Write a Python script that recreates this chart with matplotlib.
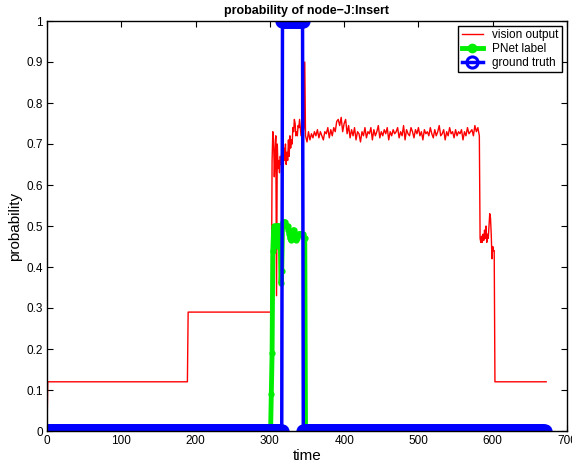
import numpy as np
import matplotlib
matplotlib.use('Agg')
import matplotlib.pyplot as plt

plt.rcParams['font.family'] = ['Liberation Sans', 'DejaVu Sans']

#------------ vision output (red) ------------
red_t_start = [0, 1, 189, 190, 302]
red_p_start = [0.0, 0.12, 0.12, 0.29, 0.29]

# rise / noisy part, one sample per time step
red_t_rise = list(range(303, 348))
red_p_rise = [0.66, 0.73, 0.71, 0.62, 0.68, 0.72, 0.33, 0.70, 0.64, 0.66,
              0.63, 0.67, 0.65, 0.68, 0.66, 0.64, 0.69, 0.66, 0.70, 0.65,
              0.68, 0.66, 0.71, 0.67, 0.72, 0.69, 0.71, 0.70, 0.74, 0.73,
              0.76, 0.75, 0.72, 0.73, 0.72, 0.745, 0.74, 0.76, 0.74, 0.72,
              0.73, 0.74, 0.73, 0.74, 0.90]

# plateau, every 2nd step from 348 to 580
red_t_plat = list(range(348, 581, 2))
red_p_plat = [0.72, 0.705, 0.73, 0.71, 0.725, 0.715, 0.73, 0.72, 0.735, 0.715, 0.73, 0.72,
              0.71, 0.73, 0.725, 0.74, 0.715, 0.735, 0.72, 0.74, 0.73, 0.755,
              0.76, 0.745, 0.765, 0.73, 0.75, 0.76, 0.725, 0.745, 0.715, 0.735,
              0.72, 0.74, 0.71, 0.73, 0.725, 0.705, 0.73, 0.72, 0.74, 0.715,
              0.73, 0.725, 0.74, 0.71, 0.735, 0.72, 0.73, 0.745, 0.715, 0.73,
              0.72, 0.735, 0.725, 0.74, 0.71, 0.73, 0.72, 0.735, 0.725, 0.73,
              0.74, 0.715, 0.73, 0.72, 0.745, 0.71, 0.735, 0.725, 0.72, 0.74,
              0.73, 0.715, 0.735, 0.725, 0.74, 0.72, 0.73, 0.71, 0.735, 0.725,
              0.73, 0.72, 0.74, 0.725, 0.715, 0.735, 0.72, 0.73, 0.745, 0.72,
              0.725, 0.735, 0.71, 0.73, 0.72, 0.74, 0.725, 0.73, 0.715, 0.735,
              0.72, 0.73, 0.725, 0.735, 0.71, 0.73, 0.72, 0.74, 0.725, 0.73,
              0.735, 0.72, 0.745, 0.73, 0.74]

# drop and tail
red_t_end = list(range(581, 604)) + [672]
red_p_end = [0.73, 0.72, 0.47, 0.46, 0.475, 0.46, 0.48, 0.465, 0.49, 0.47,
             0.50, 0.46, 0.48, 0.47, 0.50, 0.53, 0.52, 0.48, 0.42, 0.45,
             0.44, 0.44, 0.12, 0.12]

red_t = red_t_start + red_t_rise + red_t_plat + red_t_end
red_p = red_p_start + red_p_rise + red_p_plat + red_p_end

#------------ PNet label (green) ------------
green_t = list(range(0, 301)) + list(range(301, 348)) + list(range(348, 671))
green_mid = [0.0, 0.09, 0.19, 0.44, 0.49, 0.50, 0.48, 0.50, 0.45, 0.50,
             0.50, 0.50, 0.49, 0.47, 0.36, 0.39, 0.50, 0.51, 0.51, 0.51,
             0.505, 0.50, 0.50, 0.50, 0.49, 0.48, 0.47, 0.465, 0.47, 0.48,
             0.49, 0.49, 0.48, 0.47, 0.465, 0.47, 0.475, 0.48, 0.48, 0.48,
             0.48, 0.48, 0.48, 0.48, 0.475, 0.47, 0.47]
green_p = [0.0] * 301 + green_mid + [0.0] * 323

#------------ ground truth (blue) ------------
gt_t = np.arange(0, 671)
gt_on, gt_off = 317, 344
gt_p = np.where((gt_t >= gt_on) & (gt_t <= gt_off), 1.0, 0.0)

#------------ plot ------------
fig = plt.figure(figsize=(5.72, 4.65), dpi=100)
ax = fig.add_axes([47/572, 34/465, 520/572, 410/465])

ax.plot(red_t, red_p, '-', color='red', lw=1.0, label='vision output')
ax.plot(green_t, green_p, '-', color='#00ee00', lw=3.5, marker='o', ms=3.5,
        label='PNet label')
ax.plot(gt_t, gt_p, '-', color='blue', lw=2.5, marker='o', ms=8, mew=2.2,
        mfc='none', label='ground truth')

ax.set_xlim(0, 700)
ax.set_ylim(0, 1)
ax.set_xticks(np.arange(0, 701, 100))
ax.set_yticks(np.arange(0, 1.01, 0.1))
ax.set_yticklabels(['0', '0.1', '0.2', '0.3', '0.4', '0.5', '0.6', '0.7', '0.8', '0.9', '1'])
ax.tick_params(direction='in', top=True, right=True, length=4, labelsize=8.5, pad=3)
for s in ax.spines.values():
    s.set_linewidth(1.0)

ax.set_xlabel('time', fontsize=11, labelpad=1)
ax.set_ylabel('probability', fontsize=11, labelpad=3)
ax.set_title('probability of node\u2212J:Insert', fontsize=9, fontweight='bold', pad=5)

leg = ax.legend(loc='upper right', fontsize=8.5, fancybox=False, framealpha=1,
                edgecolor='black', borderaxespad=0.4, handlelength=1.8,
                borderpad=0.3, labelspacing=0.15)
leg.get_frame().set_linewidth(1.0)
plt.setp(leg.get_lines()[1], markersize=6)

fig.savefig('out.png', dpi=100)
